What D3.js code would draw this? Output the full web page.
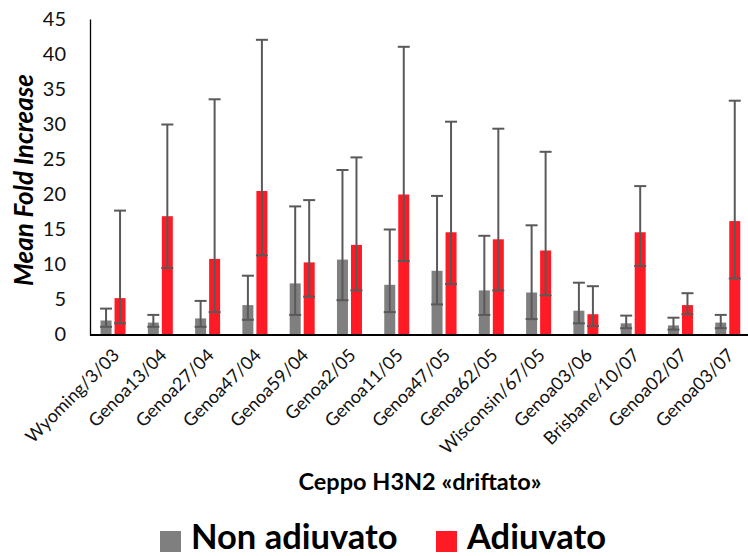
<!DOCTYPE html>
<html>
<head>
<meta charset="utf-8">
<script src="https://cdn.jsdelivr.net/npm/d3@7"></script>
<style>
  html, body { margin: 0; padding: 0; background: #fff; }
  svg { display: block; }
  text { font-family: Lato, "Open Sans", sans-serif; }
</style>
</head>
<body>
<script>
// Influenza H3N2 drifted strains
const categories = ["Wyoming/3/03", "Genoa13/04", "Genoa27/04", "Genoa47/04", "Genoa59/04",
  "Genoa2/05", "Genoa11/05", "Genoa47/05", "Genoa62/05", "Wisconsin/67/05",
  "Genoa03/06", "Brisbane/10/07", "Genoa02/07", "Genoa03/07"];

// Mean fold increase with lower / upper error limits
const nonAdj     = [2.0, 1.7, 2.3, 4.2, 7.3, 10.7, 7.1, 9.1, 6.3, 6.0, 3.4, 1.6, 1.3, 1.7];
const nonAdjLow  = [1.1, 1.1, 1.1, 2.1, 2.8, 4.9, 3.2, 4.3, 2.8, 2.2, 1.6, 0.9, 0.7, 0.9];
const nonAdjHigh = [3.7, 2.8, 4.8, 8.4, 18.3, 23.5, 15.0, 19.8, 14.1, 15.6, 7.4, 2.7, 2.4, 2.8];

const adj     = [5.2, 16.9, 10.8, 20.5, 10.3, 12.8, 20.0, 14.6, 13.6, 12.0, 2.9, 14.6, 4.2, 16.2];
const adjLow  = [1.6, 9.5, 3.2, 11.3, 5.4, 6.3, 10.5, 7.2, 6.3, 5.6, 1.2, 9.8, 2.9, 8.0];
const adjHigh = [17.7, 30.0, 33.6, 42.1, 19.2, 25.3, 41.1, 30.4, 29.4, 26.1, 6.9, 21.2, 5.9, 33.4];

const seriesNames = ["Non adiuvato", "Adiuvato"];
const seriesColors = ["#7f7f7f", "#ff1b25"];
const yTicks = [0, 5, 10, 15, 20, 25, 30, 35, 40, 45];

const W = 748, H = 556;
const svg = d3.select("body").append("svg").attr("width", W).attr("height", H);

const x0 = d3.scaleBand().domain(categories).range([89.4, 751.4]).padding(0);
const x1 = d3.scaleBand().domain(seriesNames).range([0, x0.bandwidth()])
  .paddingInner(0.214).paddingOuter(0.796);
const y = d3.scaleLinear().domain([0, 45]).range([334.5, 19.5]);

const rows = categories.map((c, i) => ({
  cat: c,
  vals: [
    { s: seriesNames[0], v: nonAdj[i], lo: nonAdjLow[i], hi: nonAdjHigh[i], color: seriesColors[0] },
    { s: seriesNames[1], v: adj[i], lo: adjLow[i], hi: adjHigh[i], color: seriesColors[1] }
  ]
}));

// bars
const groups = svg.append("g").selectAll("g").data(rows).join("g")
  .attr("transform", d => `translate(${x0(d.cat)},0)`);

groups.selectAll("rect").data(d => d.vals).join("rect")
  .attr("x", d => x1(d.s))
  .attr("width", x1.bandwidth())
  .attr("y", d => y(d.v))
  .attr("height", d => y(0) - y(d.v))
  .attr("fill", d => d.color);

// error bars
const capW = 12;
const eb = groups.selectAll("g.err").data(d => d.vals).join("g").attr("class", "err")
  .attr("stroke", "#595959").attr("stroke-width", 2);
eb.append("line")
  .attr("x1", d => x1(d.s) + x1.bandwidth() / 2).attr("x2", d => x1(d.s) + x1.bandwidth() / 2)
  .attr("y1", d => y(d.lo)).attr("y2", d => y(d.hi));
eb.append("line")
  .attr("x1", d => x1(d.s) + x1.bandwidth() / 2 - capW / 2).attr("x2", d => x1(d.s) + x1.bandwidth() / 2 + capW / 2)
  .attr("y1", d => y(d.hi)).attr("y2", d => y(d.hi));
eb.append("line")
  .attr("x1", d => x1(d.s) + x1.bandwidth() / 2 - capW / 2).attr("x2", d => x1(d.s) + x1.bandwidth() / 2 + capW / 2)
  .attr("y1", d => y(d.lo)).attr("y2", d => y(d.lo));

// y axis
const yAxis = svg.append("g").attr("transform", "translate(90,0)")
  .call(d3.axisLeft(y).tickValues(yTicks).tickSize(0).tickPadding(24));
yAxis.select(".domain").attr("stroke", "#000").attr("stroke-width", 1.3).attr("d", `M0.5,${y(45)}V${y(0)}`);
yAxis.selectAll("text").attr("font-size", 20).attr("fill", "#111").attr("font-family", "Lato, sans-serif");

// x axis
const xAxis = svg.append("g").attr("transform", `translate(0,${y(0)})`)
  .call(d3.axisBottom(x0).tickSize(0).tickFormat(""));
xAxis.select(".domain").attr("stroke", "#000").attr("stroke-width", 2.2);

// category labels
svg.append("g").selectAll("text").data(categories).join("text")
  .attr("transform", d => `translate(${x0(d) + x0.bandwidth() / 2 + 3},${352}) rotate(-45)`)
  .attr("text-anchor", "end")
  .attr("dy", "0.35em")
  .attr("font-size", 18)
  .attr("fill", "#111")
  .text(d => d);

// y title
svg.append("text")
  .attr("transform", "translate(33,180) rotate(-90)")
  .attr("text-anchor", "middle")
  .attr("font-size", 26).attr("font-weight", "bold").attr("font-style", "italic")
  .attr("fill", "#000")
  .text("Mean Fold Increase");

// x title
svg.append("text")
  .attr("x", 420).attr("y", 490)
  .attr("text-anchor", "middle")
  .attr("font-size", 23.5).attr("font-weight", "bold")
  .attr("fill", "#000")
  .text("Ceppo H3N2 «driftato»");

// legend
const legendX = [160, 436];
const leg = svg.append("g").selectAll("g").data(seriesNames).join("g")
  .attr("transform", (d, i) => `translate(${legendX[i]},531)`);
leg.append("rect").attr("width", 21).attr("height", 21).attr("fill", (d, i) => seriesColors[i]);
leg.append("text").attr("x", 31).attr("y", 18)
  .attr("font-size", 34.5).attr("font-weight", "bold").attr("fill", "#000")
  .text(d => d);
</script>
</body>
</html>
